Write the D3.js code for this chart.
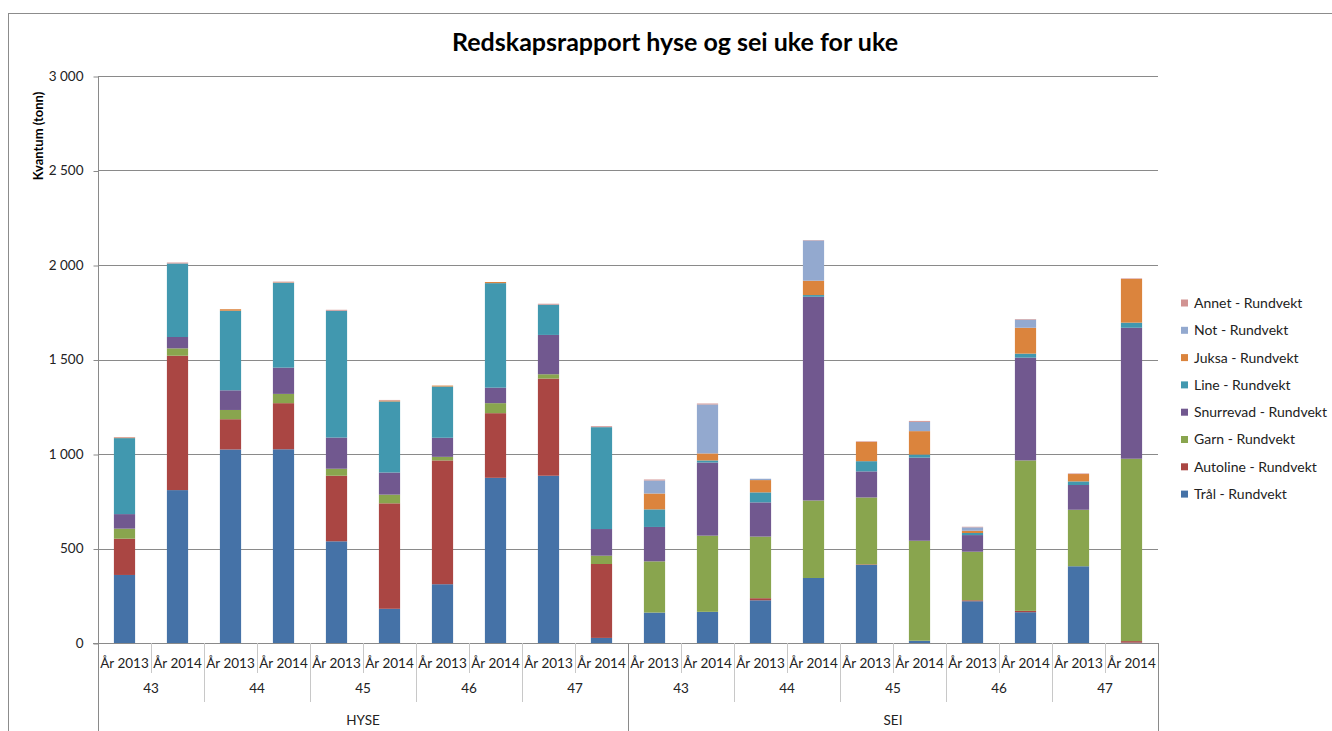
<!DOCTYPE html>
<html>
<head>
<meta charset="utf-8">
<script src="https://cdn.jsdelivr.net/npm/d3@7"></script>
<style>
  html, body { margin: 0; padding: 0; background: #fff; }
  svg { display: block; font-family: Lato, "Liberation Sans", sans-serif; }
</style>
</head>
<body>
<svg id="chart" width="1332" height="731"></svg>
<script>
// ---- Data ----
const groups = ["HYSE", "SEI"];
const weeks = ["43", "44", "45", "46", "47"];
const years = ["År 2013", "År 2014"];
const seriesNames = ["Trål - Rundvekt", "Autoline - Rundvekt", "Garn - Rundvekt", "Snurrevad - Rundvekt",
                     "Line - Rundvekt", "Juksa - Rundvekt", "Not - Rundvekt", "Annet - Rundvekt"];
const seriesColors = ["#4572A7", "#AA4643", "#89A54E", "#71588F", "#4198AF", "#DB843D", "#93A9CF", "#D19392"];
// 20 bars: HYSE 43 2013, HYSE 43 2014, HYSE 44 2013 ... SEI 47 2014
const tral      = [360, 809, 1024, 1025, 538, 181, 311, 874, 885, 27, 161, 165, 226, 344, 413, 12, 221, 163, 406, 2];
const autoline  = [192, 711, 160, 244, 347, 558, 655, 342, 514, 391, 0, 0, 11, 0, 3, 0, 5, 7, 0, 8];
const garn      = [53, 39, 49, 49, 37, 46, 19, 53, 23, 44, 271, 403, 326, 410, 354, 529, 257, 796, 299, 965];
const snurrevad = [77, 60, 104, 139, 165, 117, 101, 82, 208, 141, 182, 387, 181, 1078, 138, 440, 88, 544, 131, 693];
const lineGear  = [402, 389, 421, 449, 671, 376, 271, 553, 160, 539, 93, 11, 53, 9, 54, 16, 11, 21, 19, 27];
const juksa     = [3, 0, 8, 2, 0, 5, 5, 6, 0, 0, 84, 37, 65, 76, 102, 124, 12, 137, 39, 231];
const notGear   = [0, 0, 0, 0, 0, 0, 0, 0, 0, 0, 69, 259, 7, 213, 0, 49, 18, 43, 0, 0];
const annet     = [3, 5, 0, 4, 5, 3, 0, 0, 5, 5, 5, 5, 0, 2, 3, 5, 3, 3, 3, 3];
const yTicks = [0, 500, 1000, 1500, 2000, 2500, 3000];
const chartTitle = "Redskapsrapport hyse og sei uke for uke";
const yTitle = "Kvantum (tonn)";

// ---- Build table ----
const seriesData = [tral, autoline, garn, snurrevad, lineGear, juksa, notGear, annet];
const rows = [];
groups.forEach(g => weeks.forEach(w => years.forEach(yr => rows.push({ key: g + "|" + w + "|" + yr, g, w, yr }))));
rows.forEach((r, i) => seriesNames.forEach((s, j) => r[s] = seriesData[j][i]));

// ---- Layout ----
const svg = d3.select("#chart");
const pLeft = 98, pRight = 1158, pTop = 76, pBottom = 643;

// chart border
svg.append("rect").attr("x", 8.5).attr("y", 13.5).attr("width", 1340).attr("height", 740)
  .attr("fill", "#fff").attr("stroke", "#8c8c8c").attr("stroke-width", 1);

const x = d3.scaleBand().domain(rows.map(r => r.key)).range([pLeft, pRight]).paddingInner(0.6).paddingOuter(0.3);
const y = d3.scaleLinear().domain([0, 3000]).range([pBottom, pTop]);

// gridlines
svg.append("g").selectAll("line").data(yTicks.filter(t => t > 0)).join("line")
  .attr("x1", pLeft).attr("x2", pRight)
  .attr("y1", d => Math.round(y(d)) + 0.5).attr("y2", d => Math.round(y(d)) + 0.5)
  .attr("stroke", "#8a8a8a").attr("stroke-width", 1);

// y axis
const fmt = v => v === 0 ? "0" : d3.format(",")(v).replace(",", " ");
const yAxis = svg.append("g").attr("transform", `translate(${pLeft + 0.5},0)`)
  .call(d3.axisLeft(y).tickValues(yTicks).tickSize(5).tickPadding(10).tickFormat(fmt));
yAxis.select(".domain").remove();
yAxis.selectAll(".tick line").attr("stroke", "#8a8a8a").attr("transform", "translate(0,0.5)");
yAxis.selectAll(".tick text").attr("font-size", 13.5).attr("fill", "#222").attr("font-family", "Lato, sans-serif");

// bars
const stacked = d3.stack().keys(seriesNames)(rows);
svg.append("g").selectAll("g").data(stacked).join("g")
  .attr("fill", (d, i) => seriesColors[i])
  .selectAll("rect").data(d => d).join("rect")
  .attr("x", d => x(d.data.key))
  .attr("width", x.bandwidth())
  .attr("y", d => y(d[1]))
  .attr("height", d => Math.max(0, y(d[0]) - y(d[1])));

// axis lines
svg.append("line").attr("x1", pLeft + 0.5).attr("x2", pLeft + 0.5).attr("y1", pTop).attr("y2", 731).attr("stroke", "#8a8a8a");
svg.append("line").attr("x1", pLeft - 5).attr("x2", pRight).attr("y1", pBottom + 0.5).attr("y2", pBottom + 0.5).attr("stroke", "#8a8a8a");

// category axis multi-level
const step = x.step();
const catG = svg.append("g").attr("font-size", 13.5).attr("fill", "#222");
rows.forEach((r, i) => {
  const cx = x(r.key) + x.bandwidth() / 2;
  catG.append("text").attr("x", cx).attr("y", 663).attr("dy", "0.35em").attr("text-anchor", "middle").text(r.yr);
  const xr = pLeft + step * (i + 1);
  let y2 = 673;
  if ((i + 1) % 2 === 0) y2 = 702;
  if ((i + 1) % 10 === 0) y2 = 731;
  catG.append("line").attr("x1", Math.round(xr) + 0.5).attr("x2", Math.round(xr) + 0.5)
    .attr("y1", pBottom).attr("y2", y2).attr("stroke", (y2 === 731) ? "#8a8a8a" : "#c8c8c8");
});
groups.forEach((g, gi) => {
  weeks.forEach((w, wi) => {
    const i0 = gi * 10 + wi * 2;
    const cx = pLeft + step * (i0 + 1);
    catG.append("text").attr("x", cx).attr("y", 688).attr("dy", "0.35em").attr("text-anchor", "middle").text(w);
  });
  const cx = pLeft + step * (gi * 10 + 5);
  catG.append("text").attr("x", cx).attr("y", 720).attr("dy", "0.35em").attr("text-anchor", "middle").text(g);
});

// title
svg.append("text").attr("x", 675).attr("y", 42).attr("dy", "0.35em").attr("text-anchor", "middle")
  .attr("font-size", 25).attr("font-weight", "bold").attr("fill", "#000").text(chartTitle);

// y title
svg.append("text").attr("transform", "translate(38,136) rotate(-90)").attr("text-anchor", "middle")
  .attr("dy", "0.35em").attr("font-size", 13).attr("font-weight", "bold").attr("fill", "#000").text(yTitle);

// legend
const legendOrder = seriesNames.map((s, i) => i).reverse();
const lg = svg.append("g");
legendOrder.forEach((si, k) => {
  const ly = 303 + k * 27.3;
  lg.append("rect").attr("x", 1181).attr("y", ly - 3.5).attr("width", 7).attr("height", 7).attr("fill", seriesColors[si]);
  lg.append("text").attr("x", 1194).attr("y", ly).attr("dy", "0.35em").attr("font-size", 14).attr("fill", "#222").text(seriesNames[si]);
});
</script>
</body>
</html>
